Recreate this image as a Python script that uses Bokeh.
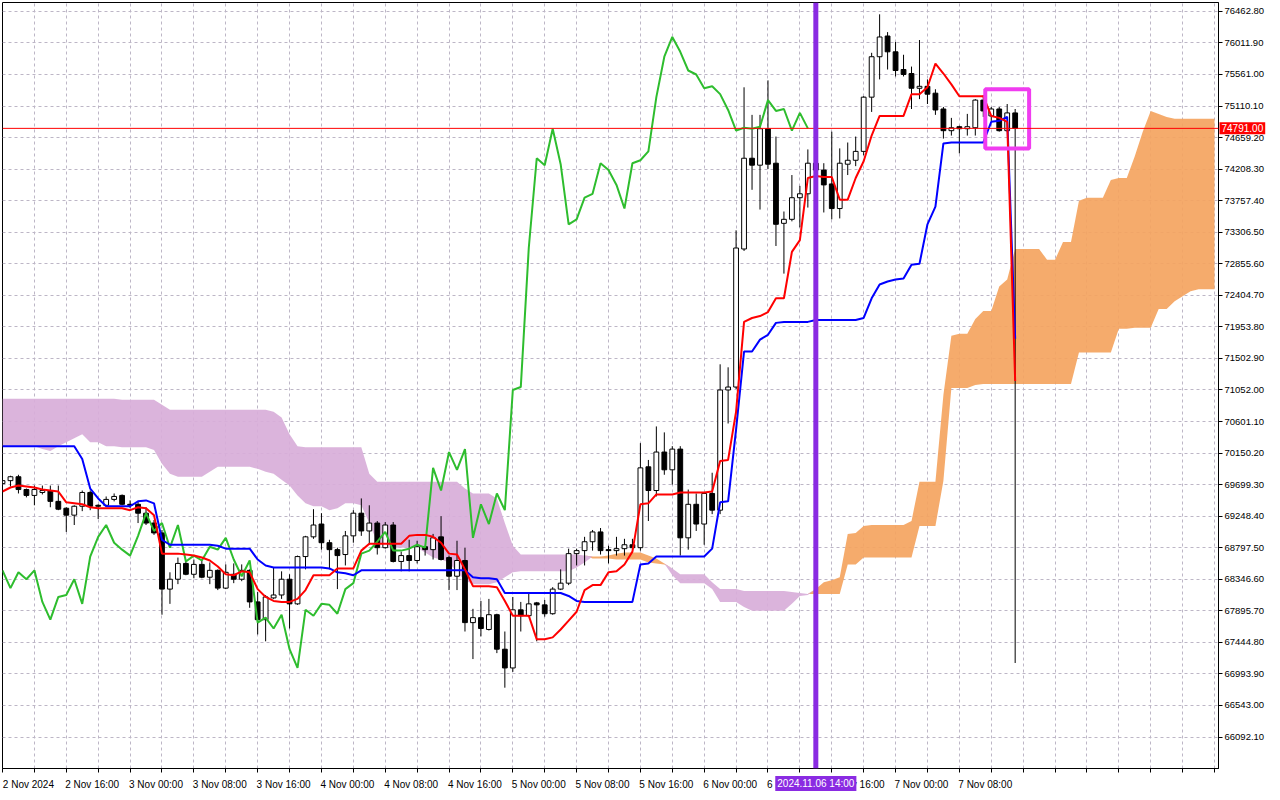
from bokeh.plotting import figure
from bokeh.models import (Range1d, FixedTicker, Span, Label, ColumnDataSource,
                          PrintfTickFormatter, LinearAxis)
from bokeh.embed import file_html
from bokeh.resources import INLINE

# ---------------- data (BTCUSD H1) ----------------
open_ = [69714,69756,69812,69629,69545,69587,69615,69460,69362,69263,
         69390,69587,69404,69404,69488,69545,69418,69418,69291,69150,
         69009,68206,68347,68573,68418,68559,68376,68474,68220,68418,
         68347,68474,68023,67769,68080,68122,68347,67995,68671,68953,
         69136,68869,68770,68700,68967,69291,69037,69150,68798,69122,
         68601,68685,68615,68812,68770,68953,68657,68390,68615,67727,
         67798,67629,67840,67347,67079,67910,67826,68009,67981,67854,
         68206,68291,68713,68756,68883,69023,68770,68756,68784,68840,
         68798,69954,69615,70165,69911,70207,68939,69418,69136,69573,
         69334,71052,71094,73067,74364,74265,74786,74293,73434,73491,
         73800,73856,74293,74195,73997,73645,74279,74335,74462,75237,
         75815,76111,75885,75632,75575,75364,75392,75294,75068,74758,
         74815,74786,74800,75195,74969,75068,74758,75012]
high = [69798,69826,69840,69643,69686,69686,69686,69686,69376,69404,
        69615,69615,69418,69530,69573,69559,69474,69460,69376,69193,
        69051,68446,68657,68615,68629,68615,68587,68488,68559,68573,
        68559,68488,68164,68122,68516,68460,68418,68685,68967,69348,
        69291,68911,68798,69037,69334,69502,69404,69179,69164,69164,
        68742,68911,68897,68826,68995,69249,68685,68897,68798,67924,
        68037,68066,67854,67600,68094,68023,68136,68023,68051,68234,
        68488,68784,68784,68953,69051,69079,68826,68953,68925,68925,
        70292,70052,70531,70446,70249,70249,69629,69573,69587,69869,
        71419,71376,73334,75378,74984,74984,75477,74674,73603,74124,
        73969,74490,74392,74293,74744,74505,74589,74674,75251,75871,
        76421,76167,76026,75843,75674,76054,75491,75350,75097,74941,
        74829,74998,75209,75265,75097,75097,75139,75068]
low = [69686,69672,69573,69517,69404,69559,69376,69334,69023,69122,
       69320,69334,69207,69390,69460,69404,69362,69150,69122,68981,
       67840,67995,68277,68404,68361,68361,68277,68192,68206,68291,
       68319,67939,67558,67460,68066,68066,67643,67981,68488,68925,
       68770,68488,68206,68544,68869,68967,68840,68700,68784,68587,
       68460,68460,68573,68685,68629,68615,68192,68192,67600,67206,
       67530,67614,67291,66797,67023,67600,67812,67460,67812,67840,
       68192,68263,68544,68544,68756,68700,68573,68685,68685,68770,
       68756,69179,69530,69840,69700,68685,68770,69037,68840,69277,
       69277,70573,71066,73039,73913,73631,74209,73110,72715,73462,
       73377,73659,74082,73589,73491,73504,74124,74251,74406,75026,
       75491,75632,75533,75533,75068,75209,75139,74984,74645,74688,
       74434,74688,74688,74955,74898,74744,74744,67150]
close = [69756,69812,69629,69545,69629,69615,69460,69348,69263,69390,
         69587,69390,69390,69488,69530,69418,69404,69291,69150,69009,
         68206,68347,68573,68418,68559,68376,68474,68220,68446,68347,
         68474,68023,67769,68094,68122,68347,67995,68671,68953,69122,
         68869,68770,68685,68967,69291,69037,69150,68798,69122,68601,
         68685,68615,68812,68770,68939,68629,68390,68615,67727,67798,
         67643,67840,67347,67079,67910,67826,67995,67981,67854,68206,
         68291,68713,68756,68883,69023,68756,68756,68784,68840,68798,
         69939,69615,70165,69911,70207,68939,69418,69136,69573,69334,
         71052,71094,73081,74364,74265,74786,74279,73420,73491,73800,
         73856,74293,74195,73983,73645,74293,74335,74462,75237,75815,
         76097,75885,75618,75561,75364,75392,75280,75054,74758,74800,
         74786,74815,75195,75040,75068,74758,75012,74791]

tenkan = [69601,69658,69686,69672,69658,69629,69615,69601,69446,69432,
          69418,69376,69362,69362,69362,69362,69334,69376,69362,69263,
          68713,68713,68713,68700,68685,68657,68615,68530,68418,68404,
          68460,68446,68206,68094,68037,68023,68023,68066,68192,68404,
          68404,68404,68502,68502,68502,68756,68855,68855,68855,68855,
          68855,68967,68981,68981,68953,68869,68713,68700,68488,68248,
          68248,68248,68234,68037,67826,67826,67826,67488,67488,67516,
          67629,67755,67882,68192,68263,68263,68446,68460,68559,68742,
          69418,69432,69559,69559,69559,69587,69587,69587,69587,69601,
          70038,70052,70743,72025,72081,72109,72166,72363,72363,73025,
          73194,74082,74110,74096,74096,73772,73772,74082,74321,74688,
          74969,74969,74969,74969,75280,75280,75378,75716,75575,75420,
          75251,75251,75251,75251,74969,74941,74885,71179]
kijun = [70249,70249,70249,70249,70249,70249,70249,70249,70249,70249,
         70066,69643,69502,69390,69390,69390,69390,69460,69474,69432,
         68911,68840,68840,68840,68840,68840,68840,68826,68784,68784,
         68784,68784,68629,68544,68516,68516,68516,68516,68516,68516,
         68516,68502,68446,68432,68404,68474,68474,68474,68474,68474,
         68474,68474,68474,68474,68474,68474,68474,68474,68474,68376,
         68361,68361,68347,68150,68150,68150,68150,68150,68150,68150,
         68150,68108,68037,68023,68023,68023,68023,68023,68023,68023,
         68559,68573,68671,68671,68671,68671,68671,68671,68671,68784,
         69446,69460,70489,71602,71602,71771,71841,72011,72025,72025,
         72025,72025,72053,72053,72053,72053,72053,72053,72081,72363,
         72560,72602,72630,72645,72842,72856,73420,73673,74575,74589,
         74589,74589,74589,74589,74885,74899,74955,71785]

span_a = [70249,70249,70249,70249,70249,70207,70179,70249,70306,70362,
          70418,70306,70306,70249,70249,70235,70235,70235,70235,70193,
          69996,69855,69812,69812,69812,69812,69883,69954,69954,69954,
          69954,69954,69925,69883,69855,69770,69686,69545,69432,69390,
          69390,69334,69362,69432,69432,69404,69150,68869,68826,68798,
          68798,68798,68798,68728,68657,68629,68587,68446,68333,68277,
          68277,68277,68305,68376,68446,68460,68460,68460,68460,68460,
          68460,68460,68516,68587,68671,68671,68685,68713,68728,68728,
          68728,68685,68643,68573,68404,68291,68291,68291,68291,68206,
          68023,68023,68023,67952,67896,67896,67896,67896,67896,67995,
          68108,68122,68206,68305,68333,68376,68995,69009,69108,69122,
          69122,69122,69122,69122,69179,69742,69742,69742,70982,71827,
          71856,71856,72067,72180,72180,72532,72631,73067,73067,73067,
          73067,72912,72912,73166,73166,73758,73800,73800,73800,74054,
          74082,74082,74392,74744,75040,74998,74955,74927,74927,74927,
          74927,74927,74927]
span_b = [70926,70926,70926,70926,70926,70926,70926,70926,70926,70926,
          70926,70926,70926,70926,70926,70911,70911,70911,70911,70911,
          70841,70771,70771,70771,70771,70771,70771,70771,70771,70771,
          70771,70771,70771,70771,70742,70658,70418,70249,70235,70235,
          70235,70235,70235,70235,70235,70235,69855,69742,69742,69742,
          69742,69742,69742,69742,69742,69742,69742,69742,69643,69573,
          69573,69573,69502,69150,68826,68700,68700,68700,68700,68700,
          68700,68700,68700,68685,68643,68643,68643,68629,68629,68629,
          68629,68587,68573,68559,68502,68418,68418,68418,68418,68305,
          68206,68206,68206,68178,68178,68178,68178,68178,68178,68164,
          68150,68136,68136,68136,68136,68136,68559,68559,68657,68657,
          68657,68657,68657,68657,68657,69108,69108,69108,69756,71080,
          71080,71080,71123,71137,71137,71137,71137,71137,71137,71137,
          71137,71137,71137,71137,71137,71588,71588,71588,71588,71588,
          71926,71926,71940,71940,71940,72208,72208,72321,72391,72462,
          72490,72490,72490]

price_ticks = [66092.10, 66543.00, 66993.90, 67444.80, 67895.70, 68346.60,
               68797.50, 69248.40, 69699.30, 70150.20, 70601.10, 71052.00,
               71502.90, 71953.80, 72404.70, 72855.60, 73306.50, 73757.40,
               74208.30, 74659.20, 75110.10, 75561.00, 76011.90, 76462.80]
time_label_bars = [0, 8, 16, 24, 32, 40, 48, 56, 64, 72, 80, 88, 96, 104, 112, 120]
time_labels = ["2 Nov 2024", "2 Nov 16:00", "3 Nov 00:00", "3 Nov 08:00",
               "3 Nov 16:00", "4 Nov 00:00", "4 Nov 08:00", "4 Nov 16:00",
               "5 Nov 00:00", "5 Nov 08:00", "5 Nov 16:00", "6 Nov 00:00",
               "6 Nov 08:00", "6 Nov 16:00", "7 Nov 00:00", "7 Nov 08:00"]
current_price = 74791.00
cursor_bar = 102
cursor_text = "2024.11.06 14:00"
chikou_shift = 26
box_bars = (123.25, 128.75)
box_prices = (74505, 75350)

# ---------------- figure ----------------
FONT = "Liberation Sans"
x_lo, x_hi = 0, 152.5
y_lo, y_hi = 65642, 76590
FH = 766
p = figure(frame_width=1216, frame_height=FH,
           x_range=Range1d(x_lo, x_hi), y_range=Range1d(y_lo, y_hi),
           output_backend="svg", toolbar_location=None, y_axis_location="right",
           min_border_left=2, min_border_top=2, min_border_right=46,
           min_border_bottom=4)
p.background_fill_color = "white"
p.border_fill_color = "white"
p.outline_line_color = "black"
p.outline_line_width = 1

# right price axis
p.yaxis.ticker = FixedTicker(ticks=price_ticks)
p.yaxis.formatter = PrintfTickFormatter(format="%.2f")
p.yaxis.major_label_text_font = FONT
p.yaxis.major_label_text_font_size = "9.5px"
p.yaxis.major_label_text_color = "black"
p.yaxis.major_tick_out = 4
p.yaxis.major_tick_in = 0
p.yaxis.minor_tick_line_color = None
p.yaxis.major_label_standoff = 2
p.yaxis.axis_line_color = "black"

# bottom axis: tick marks only
xticks = list(range(0, 153, 4))
p.xaxis.ticker = FixedTicker(ticks=xticks)
p.xaxis.major_label_overrides = {t: "" for t in xticks}
p.xaxis.major_label_text_font_size = "0px"
p.xaxis.major_label_standoff = 0
p.xaxis.major_tick_out = 4
p.xaxis.major_tick_in = 0
p.xaxis.minor_tick_line_color = None
p.xaxis.axis_line_color = "black"

# second bottom axis carrying the date labels, shifted so each label starts at its tick
shift = 3.25
p.extra_x_ranges = {"lab": Range1d(x_lo - shift, x_hi - shift)}
lab_axis = LinearAxis(x_range_name="lab", ticker=FixedTicker(ticks=time_label_bars),
                      major_label_overrides=dict(zip(time_label_bars, time_labels)),
                      major_tick_line_color=None, minor_tick_line_color=None,
                      axis_line_color=None, major_label_standoff=0,
                      major_label_text_font=FONT, major_label_text_font_size="10px",
                      major_label_text_color="black")
p.add_layout(lab_axis, "below")

for g in (p.xgrid, p.ygrid):
    g.grid_line_color = "#BDB6C6"
    g.grid_line_dash = "3 3"
    g.grid_line_width = 1
p.xgrid.ticker = FixedTicker(ticks=xticks)
p.ygrid.ticker = FixedTicker(ticks=price_ticks)

# ---------------- ichimoku cloud ----------------
cx = list(range(len(span_a)))
upper = [max(a, b) for a, b in zip(span_a, span_b)]
p.varea(x=cx, y1=span_b, y2=upper, fill_color="#F4A460", fill_alpha=0.92)
p.varea(x=cx, y1=span_a, y2=upper, fill_color="#D8AED9", fill_alpha=0.92)

# ---------------- candles ----------------
bars = list(range(len(close)))
src = ColumnDataSource(dict(
    x=bars, h=high, l=low,
    top=[max(o, c) for o, c in zip(open_, close)],
    bot=[min(o, c) for o, c in zip(open_, close)],
    fill=["white" if c >= o else "black" for o, c in zip(open_, close)],
))
p.segment(x0="x", y0="l", x1="x", y1="h", source=src, line_color="black", line_width=1)
p.vbar(x="x", width=0.6, top="top", bottom="bot", fill_color="fill",
       line_color="black", line_width=1, source=src)

# ---------------- ichimoku lines ----------------
n_ch = len(close) - chikou_shift
p.line(bars[:n_ch], close[chikou_shift:], line_color="#2EBD2E", line_width=2)
p.line(bars, kijun, line_color="#0000FF", line_width=2)
p.line(bars, tenkan, line_color="#FF0000", line_width=2)

p.add_layout(Span(location=current_price, dimension="width", line_color="#FF0000", line_width=1))
p.add_layout(Span(location=cursor_bar, dimension="height", line_color="#8A2BE2", line_width=5))
p.quad(left=[box_bars[0]], right=[box_bars[1]], bottom=[box_prices[0]], top=[box_prices[1]],
       fill_color=None, line_color="#F03CF0", line_width=4)

# ---------------- tags in the side panels ----------------
px_per_price = (y_hi - y_lo) / FH
price_tag = Label(x=x_hi, y=current_price, x_offset=1, text="74791.00", text_align="left",
                  text_baseline="middle", text_font=FONT, text_font_size="10px",
                  text_color="white", background_fill_color="#FF0000", padding=2)
p.add_layout(price_tag, "right")
time_tag = Label(x=cursor_bar, y=y_lo - 15 * px_per_price, text=cursor_text, text_align="center",
                 text_baseline="middle", text_font=FONT, text_font_size="10px",
                 text_color="white", background_fill_color="#8A2BE2", padding=2)
p.add_layout(time_tag, "below")

open("out.html", "w").write(file_html(p, INLINE))
